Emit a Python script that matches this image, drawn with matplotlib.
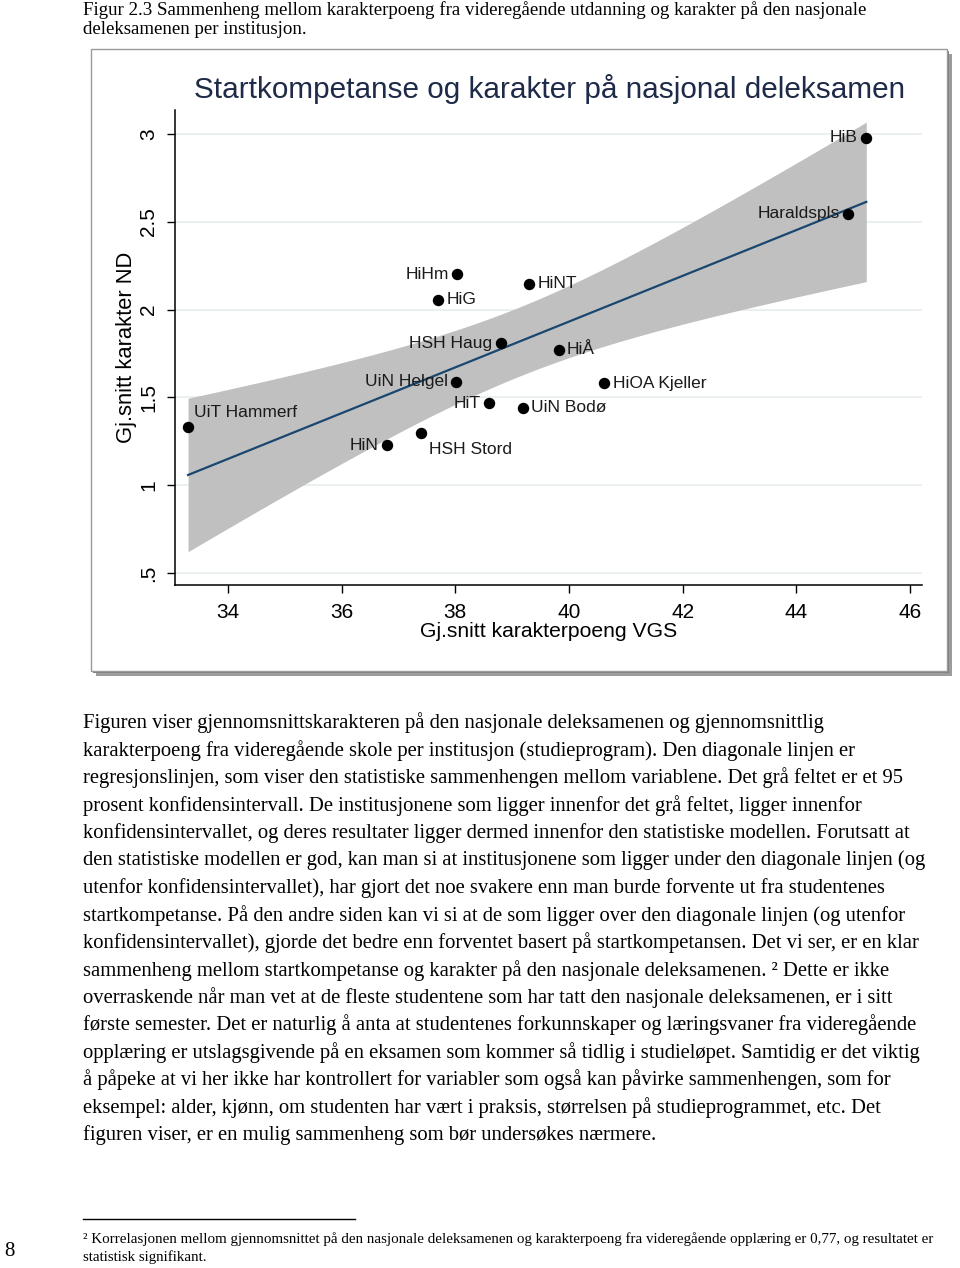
import matplotlib
matplotlib.use("Agg")
import matplotlib.pyplot as plt
import numpy as np
from matplotlib.patches import Rectangle


# Data
institutions = [
    "UiT Hammerf", "HiN", "HSH Stord", "UiN Helgel", "HiT", "UiN Bodø", "HSH Haug",
    "HiHm", "HiG", "HiNT", "HiÅ", "HiOA Kjeller", "Haraldspls", "HiB",
]
vgs_points = [33.30, 36.80, 37.40, 38.01, 38.59, 39.19, 38.80,
              38.03, 37.70, 39.30, 39.82, 40.62, 44.91, 45.23]
nd_grade = [1.33, 1.227, 1.30, 1.59, 1.466, 1.44, 1.807,
            2.20, 2.057, 2.148, 1.77, 1.58, 2.545, 2.977]

x_ticks = [34, 36, 38, 40, 42, 44, 46]
y_ticks = [0.5, 1, 1.5, 2, 2.5, 3]
y_tick_labels = [".5", "1", "1.5", "2", "2.5", "3"]

T_975_DF12 = 2.179

# where each marker label goes (Stata-like clock positions)
LABEL_POS = {
    "UiT Hammerf": "ne", "HiN": "w", "HSH Stord": "se", "UiN Helgel": "w", "HiT": "w",
    "UiN Bodø": "e", "HSH Haug": "w", "HiHm": "w", "HiG": "e", "HiNT": "e",
    "HiÅ": "e", "HiOA Kjeller": "e", "Haraldspls": "w", "HiB": "w",
}

CAPTION = [
    "Figur 2.3 Sammenheng mellom karakterpoeng fra videregående utdanning og karakter på den nasjonale",
    "deleksamenen per institusjon.",
]
BODY = [
    "Figuren viser gjennomsnittskarakteren på den nasjonale deleksamenen og gjennomsnittlig",
    "karakterpoeng fra videregående skole per institusjon (studieprogram). Den diagonale linjen er",
    "regresjonslinjen, som viser den statistiske sammenhengen mellom variablene. Det grå feltet er et 95",
    "prosent konfidensintervall. De institusjonene som ligger innenfor det grå feltet, ligger innenfor",
    "konfidensintervallet, og deres resultater ligger dermed innenfor den statistiske modellen. Forutsatt at",
    "den statistiske modellen er god, kan man si at institusjonene som ligger under den diagonale linjen (og",
    "utenfor konfidensintervallet), har gjort det noe svakere enn man burde forvente ut fra studentenes",
    "startkompetanse. På den andre siden kan vi si at de som ligger over den diagonale linjen (og utenfor",
    "konfidensintervallet), gjorde det bedre enn forventet basert på startkompetansen. Det vi ser, er en klar",
    "sammenheng mellom startkompetanse og karakter på den nasjonale deleksamenen. ² Dette er ikke",
    "overraskende når man vet at de fleste studentene som har tatt den nasjonale deleksamenen, er i sitt",
    "første semester. Det er naturlig å anta at studentenes forkunnskaper og læringsvaner fra videregående",
    "opplæring er utslagsgivende på en eksamen som kommer så tidlig i studieløpet. Samtidig er det viktig",
    "å påpeke at vi her ikke har kontrollert for variabler som også kan påvirke sammenhengen, som for",
    "eksempel: alder, kjønn, om studenten har vært i praksis, størrelsen på studieprogrammet, etc. Det",
    "figuren viser, er en mulig sammenheng som bør undersøkes nærmere.",
]
FOOTNOTE = [
    "² Korrelasjonen mellom gjennomsnittet på den nasjonale deleksamenen og karakterpoeng fra videregående opplæring er 0,77, og resultatet er",
    "statistisk signifikant.",
]

W, H = 960, 1268
SERIF = "Liberation Serif"
SANS = "Liberation Sans"


def px(x, y):
    # pixel position (from top-left) to figure fraction
    return x / W, 1 - y / H


def fit_with_ci(x, y, n_points=200):
    x = np.asarray(x)
    y = np.asarray(y)
    slope, intercept = np.polyfit(x, y, 1)
    resid = y - (slope * x + intercept)
    s = np.sqrt(np.sum(resid ** 2) / (len(x) - 2))
    sxx = np.sum((x - x.mean()) ** 2)
    xs = np.linspace(x.min(), x.max(), n_points)
    fit = slope * xs + intercept
    half = T_975_DF12 * s * np.sqrt(1 / len(x) + (xs - x.mean()) ** 2 / sxx)
    return xs, fit, fit - half, fit + half


fig = plt.figure(figsize=(W / 100, H / 100), dpi=100)

# chart frame with a drop shadow
x0, y0 = px(91, 671)
shadow = Rectangle((x0 + 5 / W, y0 - 5 / H), 856 / W, 622 / H, transform=fig.transFigure,
                   facecolor="#9c9c9c", edgecolor="none", zorder=-3)
shadow2 = Rectangle((x0 + 2 / W, y0 - 2 / H), 856 / W, 622 / H, transform=fig.transFigure,
                    facecolor="#7f7f7f", edgecolor="none", zorder=-2)
frame = Rectangle((x0, y0), 856 / W, 622 / H, transform=fig.transFigure,
                  facecolor="white", edgecolor="#9a9a9a", linewidth=1, zorder=-1)
fig.patches.extend([shadow, shadow2, frame])

ax = fig.add_axes([175 / W, 1 - 585 / H, 747 / W, 475 / H])
ax.set_facecolor("none")

xs, fit, lo, hi = fit_with_ci(vgs_points, nd_grade)
ax.fill_between(xs, lo, hi, color="#c0c0c0", linewidth=0, zorder=1)
ax.plot(xs, fit, color="#1a476f", linewidth=1.6, zorder=2)
ax.scatter(vgs_points, nd_grade, s=52, color="black", zorder=3)

offsets = {"e": (6, 0), "w": (-6, 0), "ne": (4, 5), "se": (6, -7)}
aligns = {"e": ("left", "center"), "w": ("right", "center"),
          "ne": ("left", "bottom"), "se": ("left", "top")}
for name, xv, yv in zip(institutions, vgs_points, nd_grade):
    pos = LABEL_POS[name]
    ha, va = aligns[pos]
    ax.annotate(name, (xv, yv), xytext=offsets[pos], textcoords="offset points",
                ha=ha, va=va, fontsize=12.5, family=SANS, color="#1a1a1a", zorder=4)

ax.set_xlim(33.07, 46.21)
ax.set_ylim(0.432, 3.136)
ax.set_xticks(x_ticks)
ax.set_xticklabels([str(t) for t in x_ticks], family=SANS, fontsize=15)
ax.set_yticks(y_ticks)
ax.set_yticklabels(y_tick_labels, family=SANS, fontsize=15, rotation=90, va="center")
ax.tick_params(axis="both", length=6, width=1, color="black")
ax.tick_params(axis="x", pad=7)
ax.tick_params(axis="y", pad=6)
ax.yaxis.grid(True, color="#e6eef0", linewidth=1.2)
ax.set_axisbelow(True)
for side in ("top", "right"):
    ax.spines[side].set_visible(False)
for side in ("left", "bottom"):
    ax.spines[side].set_linewidth(1.1)

ax.set_xlabel("Gj.snitt karakterpoeng VGS", family=SANS, fontsize=15.2, labelpad=0)
ax.set_ylabel("Gj.snitt karakter ND", family=SANS, fontsize=15.8, labelpad=2)

fig.text(*px(549, 89), "Startkompetanse og karakter på nasjonal deleksamen", ha="center",
         va="center", fontsize=21.4, family=SANS, color="#1e2a48")

# page text
for i, line in enumerate(CAPTION):
    fig.text(*px(83, 10 + i * 20), line, ha="left", va="center", fontsize=13.55, family=SERIF)

for i, line in enumerate(BODY):
    fig.text(*px(83, 723 + i * 27.45), line, ha="left", va="center", fontsize=14.85, family=SERIF)

fig.add_artist(plt.Line2D([83 / W, 355 / W], [1 - 1219 / H] * 2, transform=fig.transFigure,
                          color="black", linewidth=1))
for i, line in enumerate(FOOTNOTE):
    fig.text(*px(83, 1239 + i * 18), line, ha="left", va="center", fontsize=10.83, family=SERIF)
fig.text(*px(4, 1251), "8", ha="left", va="center", fontsize=15, family=SERIF)

fig.savefig("out.png", dpi=100)
